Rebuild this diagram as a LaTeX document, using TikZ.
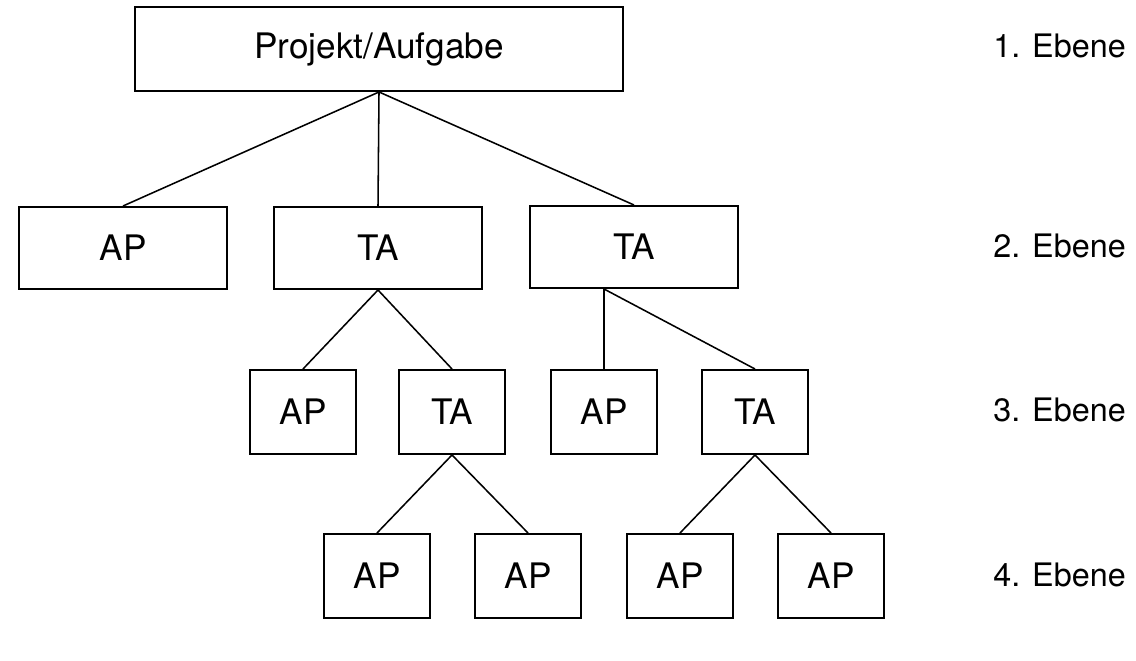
\documentclass[tikz,border=0pt]{standalone}
\usepackage{fontspec}
\setmainfont{TeX Gyre Heros}
\usetikzlibrary{positioning}
\tikzset{%
	block/.style = {draw, rectangle, line width=1.4pt, inner sep=0pt, font=\fontsize{25}{29}\selectfont},
	wide/.style  = {block, minimum width=5.2cm, minimum height=2.05cm},
	small/.style = {block, minimum width=2.63cm, minimum height=2.1cm},
	level/.style = {anchor=west, inner sep=0pt, font=\fontsize{23}{27}\selectfont},
	link/.style  = {line width=1.1pt},
}
\begin{document}
\begin{tikzpicture}[x=0.025cm, y=-0.025cm]
	\useasboundingbox (0,0) rectangle (1136,661);
	% 1. Ebene
	\node[block, minimum width=12.2cm, minimum height=2.1cm] (P) at (379,49) {Projekt/Aufgabe};
	% 2. Ebene
	\node[wide] (APa) at (123,248) {AP};
	\node[wide] (TAa) at (378,248) {TA};
	\node[wide] (TAb) at (634,247) {TA};
	% 3. Ebene
	\node[small] (APb) at (303,412) {AP};
	\node[small] (TAc) at (452,412) {TA};
	\node[small] (APc) at (604,412) {AP};
	\node[small] (TAd) at (755,412) {TA};
	% 4. Ebene
	\node[small] (APd) at (377,576) {AP};
	\node[small] (APe) at (528,576) {AP};
	\node[small] (APf) at (680,576) {AP};
	\node[small] (APg) at (831,576) {AP};
	% Ebenen
	\node[level] (E1) at (993,46) {1. Ebene};
	\node[level] (E2) at (993,246) {2. Ebene};
	\node[level] (E3) at (993,410) {3. Ebene};
	\node[level] (E4) at (993,575) {4. Ebene};
	% Verbindungen
	\draw[link] (P.south) -- (APa.north);
	\draw[link] (P.south) -- (TAa.north);
	\draw[link] (P.south) -- (TAb.north);
	\draw[link] (TAa.south) -- (APb.north);
	\draw[link] (TAa.south) -- (TAc.north);
	\coordinate (j) at (APc.north |- TAb.south);
	\draw[link] (j) -- (APc.north);
	\draw[link] (j) -- (TAd.north);
	\draw[link] (TAc.south) -- (APd.north);
	\draw[link] (TAc.south) -- (APe.north);
	\draw[link] (TAd.south) -- (APf.north);
	\draw[link] (TAd.south) -- (APg.north);
\end{tikzpicture}
\end{document}
